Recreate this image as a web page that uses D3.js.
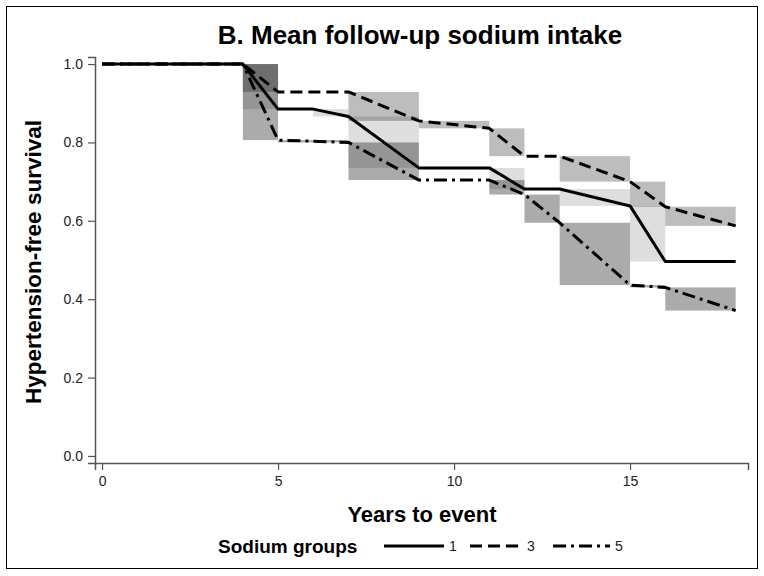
<!DOCTYPE html>
<html>
<head>
<meta charset="utf-8">
<script src="https://cdn.jsdelivr.net/npm/d3@7"></script>
<style>
  html, body { margin: 0; padding: 0; background: #fff; }
  svg { display: block; font-family: "Liberation Sans", Arial, sans-serif; }
</style>
</head>
<body>
<svg id="chart" width="764" height="576"></svg>
<script>
// ---- data ----
const groups = ["1", "3", "5"];
const years1 = [0, 4, 5, 6, 7, 9, 11, 12, 13, 15, 16, 18];
const surv1  = [1, 1, 0.885, 0.885, 0.866, 0.735, 0.735, 0.681, 0.681, 0.638, 0.496, 0.496];
const years3 = [0, 4, 5, 7, 9, 11, 12, 13, 15, 16, 18];
const surv3  = [1, 1, 0.929, 0.929, 0.855, 0.836, 0.765, 0.765, 0.700, 0.636, 0.587];
const years5 = [0, 4, 5, 7, 9, 11, 12, 13, 15, 16, 18];
const surv5  = [1, 1, 0.806, 0.800, 0.704, 0.704, 0.667, 0.595, 0.436, 0.430, 0.371];
const xTicks = [0, 5, 10, 15];
const yTicks = [0, 0.2, 0.4, 0.6, 0.8, 1.0];

const series = [
  { name: groups[0], years: years1, surv: surv1, dash: null,        shade: 0.13 },
  { name: groups[1], years: years3, surv: surv3, dash: "12,6",      shade: 0.26 },
  { name: groups[2], years: years5, surv: surv5, dash: "13,5,3,5",  shade: 0.33 }
];

const svg = d3.select("#chart");

// frame
svg.append("rect").attr("x", 6.5).attr("y", 6.5).attr("width", 751).attr("height", 562)
  .attr("fill", "none").attr("stroke", "#000").attr("stroke-width", 1);

const x = d3.scaleLinear().domain([-0.2, 18.35]).range([95, 748]);
const y = d3.scaleLinear().domain([-0.018, 1.018]).range([463, 57]);

// shaded interval boxes
const boxes = svg.append("g");
series.forEach(s => {
  for (let i = 0; i < s.years.length - 1; i++) {
    const v0 = s.surv[i], v1 = s.surv[i + 1];
    if (v0 === v1) continue;
    boxes.append("rect")
      .attr("x", x(s.years[i]))
      .attr("width", x(s.years[i + 1]) - x(s.years[i]))
      .attr("y", y(Math.max(v0, v1)))
      .attr("height", y(Math.min(v0, v1)) - y(Math.max(v0, v1)))
      .attr("fill", "#000")
      .attr("fill-opacity", s.shade);
  }
});

// axes
const axColor = "#555";
const gx = svg.append("g").attr("transform", "translate(0,463)")
  .call(d3.axisBottom(x).tickValues(xTicks).tickFormat(d3.format("d")).tickSizeOuter(0).tickSize(7).tickPadding(6));
const gy = svg.append("g").attr("transform", "translate(95,0)")
  .call(d3.axisLeft(y).tickValues(yTicks).tickFormat(d3.format(".1f")).tickSizeOuter(0).tickSize(7).tickPadding(5));
[gx, gy].forEach(g => {
  g.attr("font-size", null);
  g.select(".domain").attr("stroke", axColor).attr("stroke-width", 1.5);
  g.selectAll(".tick line").attr("stroke", axColor).attr("stroke-width", 1.2);
  g.selectAll(".tick text").attr("fill", "#222").style("font-size", "14px")
    .style("font-family", "'Liberation Sans', Arial, sans-serif");
});

// lines
const line = d3.line().x(d => x(d[0])).y(d => y(d[1]));
series.forEach(s => {
  svg.append("path")
    .datum(s.years.map((t, i) => [t, s.surv[i]]))
    .attr("d", line)
    .attr("fill", "none")
    .attr("stroke", "#000")
    .attr("stroke-width", 3)
    .attr("stroke-dasharray", s.dash)
    .attr("stroke-linejoin", "round");
});

// title
svg.append("text").attr("x", 420).attr("y", 44).attr("text-anchor", "middle")
  .style("font-size", "26px").style("font-weight", "bold")
  .text("B. Mean follow-up sodium intake");

// axis titles
svg.append("text").attr("x", 422).attr("y", 522).attr("text-anchor", "middle")
  .style("font-size", "22px").style("font-weight", "bold")
  .text("Years to event");
svg.append("text").attr("transform", "translate(41,262) rotate(-90)").attr("text-anchor", "middle")
  .style("font-size", "22.5px").style("font-weight", "bold")
  .text("Hypertension-free survival");

// legend
const ly = 546;
svg.append("text").attr("x", 218).attr("y", ly + 6.5)
  .style("font-size", "19px").style("font-weight", "bold").text("Sodium groups");
const legendX = [384, 470, 553];
const legendW = [60, 52, 57];
series.forEach((s, i) => {
  svg.append("line")
    .attr("x1", legendX[i]).attr("x2", legendX[i] + legendW[i])
    .attr("y1", ly).attr("y2", ly)
    .attr("stroke", "#000").attr("stroke-width", 3)
    .attr("stroke-dasharray", s.dash);
  svg.append("text").attr("x", legendX[i] + legendW[i] + 5).attr("y", ly + 5)
    .style("font-size", "14px").attr("fill", "#222").text(s.name);
});
</script>
</body>
</html>
